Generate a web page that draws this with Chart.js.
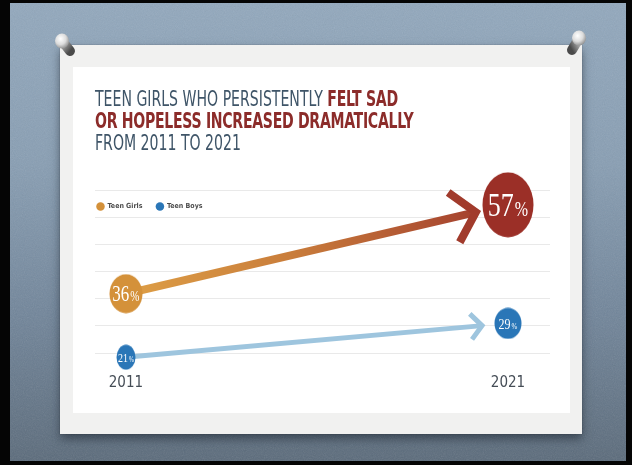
<!DOCTYPE html>
<html>
<head>
<meta charset="utf-8">
<script src="https://cdn.jsdelivr.net/npm/chart.js@4.4.1/dist/chart.umd.min.js"></script>
<style>
  html, body { margin: 0; padding: 0; width: 632px; height: 465px; overflow: hidden; background: #050505; }
  .abs { position: absolute; }
  #slide {
    left: 10px; top: 3px; width: 616px; height: 458px;
    background: linear-gradient(180deg, #92a8bd 0%, #889eb3 35%, #71859a 68%, #5b6b7b 100%);
  }
  #grain { left: 10px; top: 3px; }
  #card {
    left: 60px; top: 45px; width: 522px; height: 389px;
    background: #f1f1f0;
    box-shadow: 0 5px 9px rgba(25, 35, 45, 0.55), 0 0 1px rgba(0, 0, 0, 0.4);
  }
  #sheet { left: 73px; top: 67px; width: 497px; height: 346px; background: #fff; }
  #title {
    left: 95px; top: 88px;
    font-family: "Liberation Sans Narrow", "DejaVu Sans Condensed", sans-serif;
    font-size: 18px; line-height: 19px; color: #3f5568; white-space: nowrap;
    transform: scale(0.87, 1.15); transform-origin: 0 0;
  }
  #title b { color: #8c2c2a; letter-spacing: -0.35px; }
  #chart { left: 73px; top: 150px; }
</style>
</head>
<body>
<div id="slide" class="abs"></div>
<svg id="grain" class="abs" width="616" height="458">
  <filter id="noise"><feTurbulence type="fractalNoise" baseFrequency="0.9" numOctaves="2" seed="4"/><feColorMatrix type="saturate" values="0"/></filter>
  <rect width="616" height="458" filter="url(#noise)" opacity="0.16"/>
</svg>
<div id="card" class="abs"></div>
<div id="sheet" class="abs"></div>
<div id="title" class="abs">TEEN GIRLS WHO PERSISTENTLY <b>FELT SAD</b><br><b>OR HOPELESS INCREASED DRAMATICALLY</b><br>FROM 2011 TO 2021</div>
<canvas id="chart" class="abs" width="497" height="263"></canvas>
<svg class="abs" style="left:0;top:0" width="632" height="465">
  <defs>
    <radialGradient id="head" cx="0.4" cy="0.35" r="0.7">
      <stop offset="0" stop-color="#ffffff"/><stop offset="0.55" stop-color="#dcdcdc"/><stop offset="1" stop-color="#8a8a8a"/>
    </radialGradient>
    <linearGradient id="stemL" x1="0" y1="0" x2="1" y2="1">
      <stop offset="0" stop-color="#b9b9b9"/><stop offset="1" stop-color="#4a4a4a"/>
    </linearGradient>
    <linearGradient id="stemR" x1="1" y1="0" x2="0" y2="1">
      <stop offset="0" stop-color="#b9b9b9"/><stop offset="1" stop-color="#4a4a4a"/>
    </linearGradient>
  </defs>
  <!-- pushpins -->
  <line x1="63" y1="42" x2="70" y2="51" stroke="url(#stemL)" stroke-width="10" stroke-linecap="round"/>
  <ellipse cx="62" cy="41" rx="7" ry="7.5" fill="url(#head)"/>
  <line x1="578" y1="40" x2="572" y2="50" stroke="url(#stemR)" stroke-width="10" stroke-linecap="round"/>
  <ellipse cx="579" cy="38" rx="7" ry="7.5" fill="url(#head)"/>
</svg>
<script>
// share of students who felt persistently sad or hopeless
const YEARS = [2011, 2021];
const SERIES = ['Teen Girls', 'Teen Boys'];
const GIRLS = [36, 57];
const BOYS = [21, 29];
const GRID_ROWS = 6;

const NARROW = '"Liberation Sans Narrow", "DejaVu Sans Condensed", sans-serif';
const SERIF = '"Liberation Serif", "DejaVu Serif", serif';
const ORANGE = '#d4913a';
const RED = '#9b2f27';
const BLUE = '#2a76b7';
const STRETCH = 1.3;

// dots are slightly taller than wide
function makeDot(color, rx, ry) {
    const c = document.createElement('canvas');
    c.width = rx * 2;
    c.height = ry * 2;
    const g = c.getContext('2d');
    g.fillStyle = color;
    g.beginPath();
    g.ellipse(rx, ry, rx - 0.5, ry - 0.5, 0, 0, Math.PI * 2);
    g.fill();
    return c;
}

const dotStyles = [
    [makeDot(ORANGE, 17, 20), makeDot(RED, 26, 33)],
    [makeDot(BLUE, 10, 13), makeDot(BLUE, 14, 16)]
];
const labelSizes = [[17, 26], [10, 12]];

const arrowStyles = [
    { width: 8, head: 34, spread: 0.85, startGap: 14, endGap: 33, headColor: '#a13b2c',
      stops: [[0, '#dc9c45'], [0.45, '#c97d3b'], [1, '#a5422f']] },
    { width: 5, head: 17, spread: 0.85, startGap: 8, endGap: 26, headColor: '#9ec5de',
      stops: [[0, '#9ec5de'], [1, '#9ec5de']] }
];

// slanted arrows from the 2011 dot to the 2021 dot
const arrows = {
    id: 'arrows',
    beforeDatasetsDraw(chart) {
        const ctx = chart.ctx;
        chart.data.datasets.forEach(function(ds, i) {
            const pts = chart.getDatasetMeta(i).data;
            const st = arrowStyles[i];
            const a = pts[0], b = pts[1];
            const len = Math.hypot(b.x - a.x, b.y - a.y);
            const ux = (b.x - a.x) / len, uy = (b.y - a.y) / len;
            const sx = a.x + ux * st.startGap, sy = a.y + uy * st.startGap;
            const tx = b.x - ux * st.endGap, ty = b.y - uy * st.endGap;
            const grad = ctx.createLinearGradient(sx, sy, tx, ty);
            st.stops.forEach(function(s) { grad.addColorStop(s[0], s[1]); });
            ctx.save();
            ctx.lineCap = 'butt';
            ctx.lineJoin = 'miter';
            ctx.lineWidth = st.width;
            ctx.strokeStyle = grad;
            ctx.beginPath();
            ctx.moveTo(sx, sy);
            ctx.lineTo(tx - ux * st.width * 0.5, ty - uy * st.width * 0.5);
            ctx.stroke();
            const ang = Math.atan2(uy, ux);
            ctx.strokeStyle = st.headColor;
            ctx.beginPath();
            ctx.moveTo(tx - st.head * Math.cos(ang - st.spread), ty - st.head * Math.sin(ang - st.spread));
            ctx.lineTo(tx, ty);
            ctx.lineTo(tx - st.head * Math.cos(ang + st.spread), ty - st.head * Math.sin(ang + st.spread));
            ctx.stroke();
            ctx.restore();
        });
    }
};

// "57%" style labels inside the dots
const valueLabels = {
    id: 'valueLabels',
    afterDatasetsDraw(chart) {
        const ctx = chart.ctx;
        chart.data.datasets.forEach(function(ds, i) {
            chart.getDatasetMeta(i).data.forEach(function(pt, j) {
                const size = labelSizes[i][j];
                const num = String(ds.data[j].y);
                const big = size + 'px ' + SERIF;
                const small = Math.round(size * 0.62) + 'px ' + SERIF;
                ctx.save();
                ctx.translate(pt.x, pt.y);
                ctx.scale(1, STRETCH);
                ctx.fillStyle = '#fff';
                ctx.textBaseline = 'alphabetic';
                ctx.textAlign = 'left';
                ctx.font = big;
                const w1 = ctx.measureText(num).width;
                ctx.font = small;
                const w2 = ctx.measureText('%').width;
                const x0 = -(w1 + w2 + 1) / 2;
                const base = size * 0.33;
                ctx.font = big;
                ctx.fillText(num, x0, base);
                ctx.font = small;
                ctx.fillText('%', x0 + w1 + 1, base);
                ctx.restore();
            });
        });
    }
};

// the legend row is drawn inside the plot, under the top grid line
// (move the whole box, the legend clips itself to it)
const legendNudge = {
    id: 'legendNudge',
    afterLayout(chart) {
        const l = chart.legend;
        l.left -= 12;
        l.top += 30;
        l.bottom += 30;
    }
};

function points(values) {
    return YEARS.map(function(y, i) { return { x: y, y: values[i] }; });
}

Chart.defaults.font.family = NARROW;

new Chart(document.getElementById('chart'), {
    type: 'line',
    data: {
        datasets: [
            { label: SERIES[0], data: points(GIRLS), showLine: false, clip: false,
              pointStyle: dotStyles[0], pointRadius: 20, pointBorderWidth: 0,
              pointBackgroundColor: ORANGE, pointBorderColor: ORANGE, backgroundColor: ORANGE },
            { label: SERIES[1], data: points(BOYS), showLine: false, clip: false,
              pointStyle: dotStyles[1], pointRadius: 20, pointBorderWidth: 0,
              pointBackgroundColor: BLUE, pointBorderColor: BLUE, backgroundColor: BLUE }
        ]
    },
    options: {
        responsive: false,
        animation: false,
        events: [],
        layout: { padding: { left: 22, right: 20, top: 9, bottom: 0 } },
        plugins: {
            tooltip: { enabled: false },
            legend: {
                position: 'top',
                align: 'start',
                labels: {
                    usePointStyle: true,
                    pointStyle: 'circle',
                    boxWidth: 8,
                    boxHeight: 6,
                    padding: 14,
                    color: '#4d4d4d',
                    font: { size: 7, weight: 'bold' }
                }
            }
        },
        scales: {
            x: {
                type: 'linear',
                min: 2010.19,
                max: 2022.1,
                afterBuildTicks: function(scale) {
                    scale.ticks = YEARS.map(function(v) { return { value: v }; });
                },
                ticks: {
                    callback: function(v) { return String(v); },
                    color: '#454d56',
                    font: { size: 15 },
                    padding: 21
                },
                grid: { display: false, drawTicks: false },
                border: { display: false }
            },
            y: { display: false, min: 22, max: 60.5 },
            yGrid: {
                position: 'left',
                min: 0,
                max: GRID_ROWS,
                ticks: { display: false, stepSize: 1 },
                grid: { color: '#e9e9e9', drawTicks: false },
                border: { display: false }
            }
        }
    },
    plugins: [arrows, valueLabels, legendNudge]
});
</script>
</body>
</html>
